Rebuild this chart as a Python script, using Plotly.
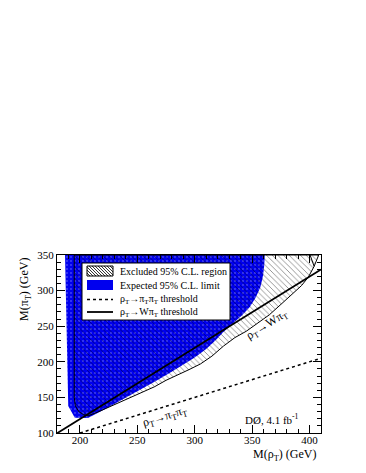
import plotly.graph_objects as go

# expected 95% C.L. limit (blue area), M(rho_T) vs M(pi_T) in GeV
exp_mrho = [187, 189.8, 195.5, 207, 220, 235, 250, 265, 280, 290, 300, 310, 318,
            325, 333, 341, 348, 353, 357, 359.5, 360.5, 361, 187]
exp_mpi = [350, 138, 121.5, 121, 132, 145, 159, 172, 186, 196, 206, 218, 230,
           242, 254, 265, 277, 290, 304, 320, 335, 350, 350]

# observed excluded region (hatched)
obs_mrho = [195, 195, 196, 199, 203, 207, 215, 225, 235, 245, 255, 265, 275, 285,
            295, 305, 315, 325, 335, 345, 355, 365, 376, 387, 393, 399, 404, 408, 195]
obs_mpi = [350, 150, 138, 130, 126, 124, 129, 136, 143, 150, 157, 165, 174, 181,
           189, 197, 208, 222, 234, 243, 255, 266, 282, 298, 307, 319, 334, 350, 350]

# small contour branch near the top right corner
branch_mrho = [404, 400.5]
branch_mpi = [334, 350]

# kinematic thresholds
w_mrho = [180, 410]
w_mpi = [99.6, 329.6]
pp_mrho = [200, 410]
pp_mpi = [100, 205]

legend_labels = ["Excluded 95% C.L. region",
                 "Expected 95% C.L. limit",
                 "ρ<sub>T</sub>→π<sub>T</sub>π<sub>T</sub> threshold",
                 "ρ<sub>T</sub>→Wπ<sub>T</sub> threshold"]

serif = "Liberation Serif, Times New Roman, serif"
blue = "#0000ee"

# plot frame position on the page (px), used for the hand-made legend
X0, X1, Y0, Y1 = 57, 321, 255, 433


def px(x):
    return (x - X0) / (X1 - X0)


def py(y):
    return (Y1 - y) / (Y1 - Y0)


fig = go.Figure()

fig.add_trace(go.Scatter(
    x=exp_mrho, y=exp_mpi, fill="toself", mode="lines",
    line=dict(color=blue, width=0),
    fillcolor=blue,
    fillpattern=dict(shape=".", fgcolor="white", bgcolor=blue, size=4, solidity=0.1),
    showlegend=False))

fig.add_trace(go.Scatter(
    x=obs_mrho, y=obs_mpi, fill="toself", mode="lines",
    line=dict(color="black", width=1),
    fillcolor="rgba(0,0,0,0)",
    fillpattern=dict(shape="\\", fgcolor="black", bgcolor="rgba(0,0,0,0)", size=4, solidity=0.2),
    showlegend=False))

fig.add_trace(go.Scatter(
    x=branch_mrho, y=branch_mpi, mode="lines",
    line=dict(color="black", width=1), showlegend=False))

fig.add_trace(go.Scatter(
    x=pp_mrho, y=pp_mpi, mode="lines",
    line=dict(color="black", width=1.5, dash="dot"),
    showlegend=False))

fig.add_trace(go.Scatter(
    x=w_mrho, y=w_mpi, mode="lines",
    line=dict(color="black", width=1.8),
    showlegend=False))

axis_common = dict(
    showline=True, linecolor="black", linewidth=1, mirror="ticks",
    ticks="inside", ticklen=8, tickcolor="black", tickwidth=1,
    showgrid=False, zeroline=False,
    tickfont=dict(family=serif, size=11, color="black"),
    minor=dict(ticks="inside", ticklen=4, dtick=10, tickcolor="black", showgrid=False),
)

fig.update_xaxes(range=[180, 410], tickvals=[200, 250, 300, 350, 400],
                 ticklabelstandoff=-3, **axis_common)
fig.update_yaxes(range=[100, 350], tickvals=[100, 150, 200, 250, 300, 350], **axis_common)

fig.add_annotation(text="ρ<sub>T</sub>→Wπ<sub>T</sub>", x=363, y=252, xref="x", yref="y",
                   textangle=-32, showarrow=False,
                   font=dict(family=serif, size=12, color="black"))
fig.add_annotation(text="ρ<sub>T</sub>→π<sub>T</sub>π<sub>T</sub>", x=274, y=123, xref="x", yref="y",
                   textangle=-17, showarrow=False,
                   font=dict(family=serif, size=12, color="black"))
fig.add_annotation(text="DØ, 4.1 fb<sup>-1</sup>", x=392.5, y=119.7, xref="x", yref="y",
                   xanchor="right", yanchor="middle", showarrow=False,
                   font=dict(family=serif, size=11, color="black"))

fig.add_annotation(text="M(ρ<sub>T</sub>) (GeV)", x=px(318), y=py(455), xref="paper", yref="paper",
                   xanchor="right", yanchor="middle", showarrow=False,
                   font=dict(family=serif, size=12, color="black"))
fig.add_annotation(text="M(π<sub>T</sub>) (GeV)", x=px(25), y=1.0, xref="paper", yref="paper",
                   xanchor="center", yanchor="top", textangle=-90, showarrow=False,
                   font=dict(family=serif, size=12, color="black"))

# legend box drawn by hand (ROOT style)
shapes = [dict(type="rect", xref="paper", yref="paper",
               x0=px(82), x1=px(230), y0=py(263), y1=py(320),
               fillcolor="white", line=dict(color="black", width=1), layer="above")]

row_y = [271, 285, 299.5, 312]
sx0, sx1 = 87, 113

# hatched swatch
hy0, hy1 = row_y[0] - 5, row_y[0] + 5
segs = []
start = sx0 - (hy1 - hy0)
while start < sx1:
    xa, ya = start, hy0
    xb, yb = start + (hy1 - hy0), hy1
    if xa < sx0:
        ya += sx0 - xa
        xa = sx0
    if xb > sx1:
        yb -= xb - sx1
        xb = sx1
    segs.append(f"M {px(xa):.4f} {py(ya):.4f} L {px(xb):.4f} {py(yb):.4f}")
    start += 3
shapes.append(dict(type="path", xref="paper", yref="paper", path=" ".join(segs),
                   line=dict(color="black", width=0.8), layer="above"))
shapes.append(dict(type="rect", xref="paper", yref="paper",
                   x0=px(sx0), x1=px(sx1), y0=py(hy0), y1=py(hy1),
                   line=dict(color="black", width=1), layer="above"))

# blue swatch
shapes.append(dict(type="rect", xref="paper", yref="paper",
                   x0=px(sx0), x1=px(sx1), y0=py(row_y[1] - 5), y1=py(row_y[1] + 5),
                   fillcolor=blue, line=dict(width=0), layer="above"))

# line swatches
shapes.append(dict(type="line", xref="paper", yref="paper",
                   x0=px(sx0), x1=px(sx1), y0=py(row_y[2]), y1=py(row_y[2]),
                   line=dict(color="black", width=1.5, dash="dot"), layer="above"))
shapes.append(dict(type="line", xref="paper", yref="paper",
                   x0=px(sx0), x1=px(sx1), y0=py(row_y[3]), y1=py(row_y[3]),
                   line=dict(color="black", width=1.8), layer="above"))

for lab, yy in zip(legend_labels, row_y):
    fig.add_annotation(text=lab, x=px(118), y=py(yy), xref="paper", yref="paper",
                       xanchor="left", yanchor="middle", showarrow=False,
                       font=dict(family=serif, size=10, color="black"))

fig.update_layout(
    width=358, height=465,
    margin=dict(l=49, r=45, t=247, b=40),
    plot_bgcolor="white", paper_bgcolor="white",
    showlegend=False,
    shapes=shapes,
)

fig.write_html("out.html")
